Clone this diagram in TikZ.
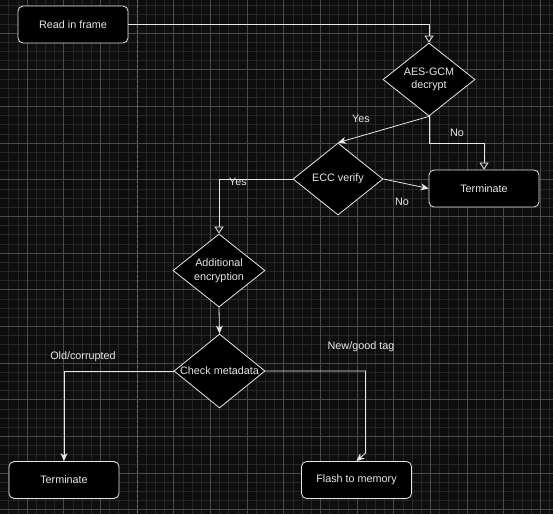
\documentclass[tikz,border=0pt]{standalone}
\usepackage{fontspec}
\setmainfont{Liberation Sans}
\usetikzlibrary{shapes.geometric, arrows.meta}

\definecolor{bgcol}{HTML}{0E0E0E}
\definecolor{minorgrid}{HTML}{262626}
\definecolor{majorgrid}{HTML}{4A4A4A}
\definecolor{pagebreak}{HTML}{6E6E6E}
\definecolor{ink}{HTML}{E8E8E8}

\tikzset{
  box/.style={draw=ink, fill=black, line width=0.8pt, rounded corners=5pt,
    minimum width=110pt, minimum height=37pt, inner sep=0pt, text=ink},
  dec/.style={draw=ink, fill=black, line width=0.8pt, diamond, inner sep=0pt,
    minimum width=92pt, minimum height=73pt},
  dectext/.style={text=ink, align=center, inner sep=0pt},
  lbl/.style={text=ink, inner sep=0pt},
  ln/.style={draw=ink, line width=0.8pt},
  opentip/.style={-{Triangle[open, length=7pt, width=9pt]}},
  filltip/.style={-{Stealth[length=8pt, width=7pt, inset=2.5pt]}},
}

\begin{document}
\begin{tikzpicture}[x=1pt, y=-1pt, font=\fontsize{10.8}{13.5}\selectfont]
    \useasboundingbox (0,0) rectangle (553,514);
    % grid background
    \fill[bgcol] (0,0) rectangle (553,514);
    \foreach \i in {0,...,59}
        \draw[minorgrid, line width=0.5pt] ({8.67+9.1667*\i},0) -- ({8.67+9.1667*\i},514);
    \foreach \i in {0,...,55}
        \draw[minorgrid, line width=0.5pt] (0,{5.5+9.1667*\i}) -- (553,{5.5+9.1667*\i});
    \foreach \i in {0,...,14}
        \draw[majorgrid, line width=0.6pt] ({27+36.667*\i},0) -- ({27+36.667*\i},514);
    \foreach \i in {0,...,13}
        \draw[majorgrid, line width=0.6pt] (0,{33+36.667*\i}) -- (553,{33+36.667*\i});
    \draw[pagebreak, line width=0.6pt, dash pattern=on 3pt off 2pt] (137.3,0) -- (137.3,514);

    % steps
    \node[box] at (73,24.5)    (Read)  {Read in frame};
    \node[dec] at (429,79.5)   (AES)   {};
    \node[dectext] at (AES)    (AEStext) {AES-GCM\\decrypt};
    \node[box] at (484,188.5)  (TermA) {Terminate};
    \node[dec, minimum width=90pt, minimum height=72pt] at (338,179) (ECC) {};
    \node[dectext] at (ECC)    (ECCtext) {ECC verify};
    \node[dec] at (219,270.5)  (Extra) {};
    \node[dectext] at (Extra)  (Extratext) {Additional\\encryption};
    \node[dec, minimum width=91pt, minimum height=74pt] at (219.5,371) (Check) {};
    \node[dectext] at (Check)  (Checktext) {Check metadata};
    \node[box] at (64,480)     (TermB) {Terminate};
    \node[box] at (356.5,480)  (Flash) {Flash to memory};

    % labels
    \node[lbl] at (361,119)    (YesA)  {Yes};
    \node[lbl] at (457,133)    (NoA)   {No};
    \node[lbl] at (238,182)    (YesB)  {Yes};
    \node[lbl] at (402,202)    (NoB)   {No};
    \node[lbl] at (83,357)     (Old)   {Old/corrupted};
    \node[lbl] at (361,347)    (New)   {New/good tag};

    \draw[ln, opentip] (Read.east) -| (AES.north);
    \draw[ln, filltip] (AES.south) -- (ECC.north);
    \draw[ln, opentip] (AES.south) -- ++(0,27) -| (TermA.north);
    \draw[ln, filltip] (ECC.east) -- (TermA.west);
    \draw[ln, opentip] (ECC.west) -| (Extra.north);
    \draw[ln, filltip] (Extra.south) -- (Check.north);
    \draw[ln, filltip] (Check.west) -| (TermB.north);
    \draw[ln, filltip] (Check.east) -| ([xshift=9pt, yshift=8pt]Flash.north) -- (Flash.north);
\end{tikzpicture}
\end{document}
